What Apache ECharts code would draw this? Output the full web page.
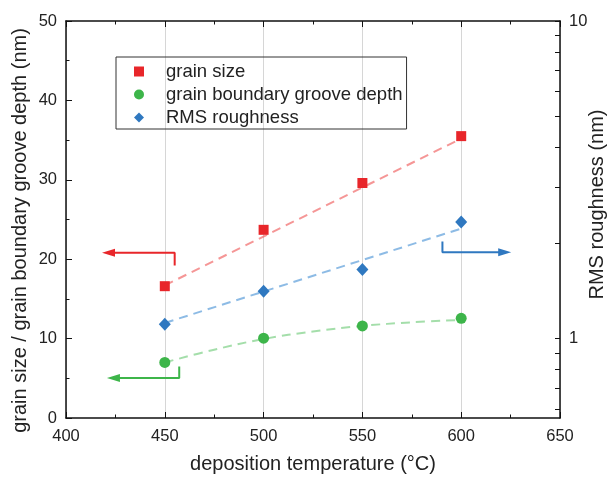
<!DOCTYPE html>
<html>
<head>
<meta charset="utf-8">
<script src="https://cdn.jsdelivr.net/npm/echarts@6/dist/echarts.min.js"></script>
<style>html,body{margin:0;padding:0;background:#fff}#c{width:614px;height:477px}</style>
</head>
<body>
<div id="c"></div>
<script>
// ---- data ----
const temperatures = [450, 500, 550, 600];
const grainSize = [16.6, 23.7, 29.6, 35.5];
const grooveDepth = [7.0, 10.05, 11.6, 12.55];
const rmsRoughness = [1.11, 1.41, 1.65, 2.33];

const grainFitX = [450, 600];
const grainFitY = [16.7, 35.2];
const rmsFitX = [450, 600];
const rmsFitY = [1.12, 2.22];
const grooveFitX = [450, 475, 500, 525, 550, 575, 600];
const grooveFitY = [7.0, 8.6, 9.95, 10.9, 11.6, 12.05, 12.35];

// arrows: corner path, last point is the arrow head
const redArrowX = [455, 455, 421.5];
const redArrowY = [19.2, 20.8, 20.8];
const greenArrowX = [457.3, 457.3, 424];
const greenArrowY = [6.5, 5.05, 5.05];
const blueArrowX = [590.5, 590.5, 622];
const blueArrowY = [2.02, 1.87, 1.87];

const xTicks = [400, 450, 500, 550, 600, 650];
const leftTicks = [0, 10, 20, 30, 40, 50];
const rightMajor = [1, 10];
const rightMinor = [0.6, 0.7, 0.8, 0.9, 1, 2, 3, 4, 5, 6, 7, 8, 9, 10];

const names = ['grain size', 'grain boundary groove depth', 'RMS roughness'];

const RED = '#e8262a', GREEN = '#3db54a', BLUE = '#2f78c0';
const FONT = 'Liberation Sans';
const TXT = '#222';

const zip = (a, b) => a.map((v, i) => [v, b[i]]);
function arrowData(xs, ys) {
  return xs.map((x, i) => (i < xs.length - 1) ? { value: [x, ys[i]], symbol: 'none' } : { value: [x, ys[i]] });
}

const chart = echarts.init(document.getElementById('c'), null, { renderer: 'canvas' });
const axisLine = { show: true, lineStyle: { color: '#111', width: 1.5 } };

const option = {
  animation: false,
  backgroundColor: '#fff',
  textStyle: { fontFamily: FONT },
  grid: { left: 66, right: 54, top: 21, bottom: 59, containLabel: false, outerBoundsMode: 'none' },
  legend: {
    data: names,
    orient: 'vertical',
    left: 116, top: 57,
    borderColor: '#333', borderWidth: 1,
    padding: [5, 4, 2, 18],
    itemWidth: 10, itemHeight: 10, itemGap: 4,
    symbolKeepAspect: true,
    textStyle: { fontSize: 18.5, fontFamily: FONT, color: TXT, padding: [0, 0, 0, 17] }
  },
  xAxis: [{
    type: 'value', min: xTicks[0], max: xTicks[xTicks.length - 1], interval: 50, position: 'bottom',
    name: 'deposition temperature (°C)', nameLocation: 'middle', nameGap: 36, nameMoveOverlap: false,
    nameTextStyle: { fontSize: 20, fontFamily: FONT, color: TXT },
    axisLine: axisLine,
    axisTick: { show: true, inside: true, length: 6, lineStyle: { color: '#111', width: 1 } },
    minorTick: { show: true, splitNumber: 2, length: 3.5, lineStyle: { color: '#111', width: 1 } },
    splitLine: { show: true, lineStyle: { color: '#d6d6d6', width: 1 } },
    axisLabel: { fontSize: 16.5, fontFamily: FONT, color: TXT, margin: 10 }
  }, {
    type: 'value', min: xTicks[0], max: xTicks[xTicks.length - 1], interval: 50, position: 'top',
    axisLine: axisLine,
    axisTick: { show: true, inside: true, length: 6, lineStyle: { color: '#111', width: 1 } },
    minorTick: { show: true, splitNumber: 2, length: 3.5, lineStyle: { color: '#111', width: 1 } },
    splitLine: { show: false },
    axisLabel: { show: false }
  }],
  yAxis: [{
    type: 'value', min: leftTicks[0], max: leftTicks[leftTicks.length - 1], interval: 10, position: 'left',
    name: 'grain size / grain boundary groove depth (nm)', nameLocation: 'middle', nameGap: 36, nameMoveOverlap: false,
    nameTextStyle: { fontSize: 20, fontFamily: FONT, color: TXT, padding: [0, 22, 0, 0] },
    axisLine: axisLine,
    axisTick: { show: true, inside: true, length: 6, lineStyle: { color: '#111', width: 1 } },
    minorTick: { show: true, splitNumber: 2, length: 3.5, lineStyle: { color: '#111', width: 1 } },
    splitLine: { show: false },
    axisLabel: { fontSize: 16.5, fontFamily: FONT, color: TXT, margin: 9 }
  }, {
    type: 'log', logBase: 10, min: Math.pow(10, -0.25), max: 10, position: 'right',
    name: 'RMS roughness (nm)', nameLocation: 'middle', nameGap: 27, nameMoveOverlap: false,
    nameTextStyle: { fontSize: 20, fontFamily: FONT, color: TXT, padding: [0, 0, 0, 30] },
    axisLine: axisLine,
    axisTick: { show: true, inside: true, length: 5, customValues: rightMinor, lineStyle: { color: '#111', width: 1 } },
    splitLine: { show: false },
    axisLabel: { fontSize: 16.5, fontFamily: FONT, color: TXT, margin: 9, customValues: rightMajor }
  }],
  series: [
    { type: 'line', data: zip(grainFitX, grainFitY), symbol: 'none', silent: true, z: 2,
      lineStyle: { color: 'rgba(238,80,80,0.6)', width: 2, type: [9, 6] } },
    { type: 'line', data: zip(rmsFitX, rmsFitY), yAxisIndex: 1, symbol: 'none', silent: true, z: 2,
      lineStyle: { color: 'rgba(80,150,215,0.65)', width: 2, type: [9, 6] } },
    { type: 'line', data: zip(grooveFitX, grooveFitY), symbol: 'none', smooth: 0.4, silent: true, z: 2,
      lineStyle: { color: 'rgba(90,195,100,0.55)', width: 2, type: [9, 6] } },

    { type: 'line', data: arrowData(redArrowX, redArrowY), symbol: 'triangle', symbolSize: [8, 13], symbolRotate: 90,
      lineStyle: { color: RED, width: 2 }, itemStyle: { color: RED }, silent: true, z: 3 },
    { type: 'line', data: arrowData(greenArrowX, greenArrowY), symbol: 'triangle', symbolSize: [8, 13], symbolRotate: 90,
      lineStyle: { color: GREEN, width: 2 }, itemStyle: { color: GREEN }, silent: true, z: 3 },
    { type: 'line', data: arrowData(blueArrowX, blueArrowY), yAxisIndex: 1, symbol: 'triangle', symbolSize: [8, 13], symbolRotate: -90,
      lineStyle: { color: BLUE, width: 2 }, itemStyle: { color: BLUE }, silent: true, z: 3 },

    { name: names[0], type: 'scatter', data: zip(temperatures, grainSize), symbol: 'rect', symbolSize: 10,
      itemStyle: { color: RED, opacity: 1 }, z: 5 },
    { name: names[1], type: 'scatter', data: zip(temperatures, grooveDepth), symbol: 'circle', symbolSize: 11,
      itemStyle: { color: GREEN, opacity: 1 }, z: 5 },
    { name: names[2], type: 'scatter', data: zip(temperatures, rmsRoughness), yAxisIndex: 1, symbol: 'diamond', symbolSize: [12, 13],
      itemStyle: { color: BLUE, opacity: 1 }, z: 5 }
  ]
};
chart.setOption(option);
</script>
</body>
</html>
